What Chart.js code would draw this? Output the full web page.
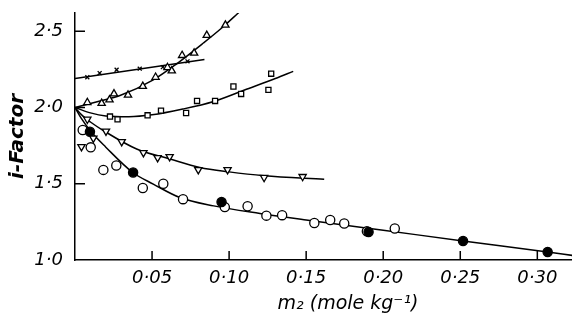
<!DOCTYPE html>
<html lang="en">
<head>
<meta charset="UTF-8">
<title>i-Factor against m2</title>
<script src="https://cdn.jsdelivr.net/npm/chart.js@4.4.0/dist/chart.umd.min.js"></script>
<style>
  body { margin: 0; background: #fff; }
</style>
</head>
<body>
<canvas id="chart" width="572" height="322"></canvas>
<script>
// axis ticks
const xTicks = [0.05, 0.10, 0.15, 0.20, 0.25, 0.30];
const yTicks = [1.0, 1.5, 2.0, 2.5];
const xTitle = 'm\u2082 (mole kg\u207B\u00B9)';
const yTitle = 'i-Factor';

// crosses
const crossM = [0.008, 0.016, 0.027, 0.042, 0.057, 0.073];
const crossI = [2.199, 2.226, 2.248, 2.255, 2.265, 2.303];
const crossLineM = [0, 0.084];
const crossLineI = [2.19, 2.315];

// upward triangles
const triUpM = [0.008, 0.0173, 0.0224, 0.0253, 0.0344, 0.044, 0.0523, 0.060, 0.0628, 0.0695, 0.0773, 0.0855, 0.0976];
const triUpI = [2.033, 2.028, 2.051, 2.090, 2.082, 2.139, 2.199, 2.263, 2.241, 2.342, 2.357, 2.474, 2.541];
const triUpCurveM = [0, 0.015, 0.0292, 0.0508, 0.066, 0.0833, 0.095, 0.107];
const triUpCurveI = [2.0, 2.04, 2.079, 2.182, 2.287, 2.423, 2.52, 2.63];

// squares
const squareM = [0.0227, 0.0276, 0.0471, 0.0558, 0.0721, 0.0792, 0.0909, 0.1028, 0.1078, 0.1273, 0.1255];
const squareI = [1.941, 1.922, 1.949, 1.980, 1.964, 2.043, 2.043, 2.138, 2.089, 2.222, 2.116];
const squareCurveM = [0, 0.01, 0.02, 0.035, 0.05, 0.07, 0.09, 0.11, 0.13, 0.1416];
const squareCurveI = [2.0, 1.965, 1.945, 1.94, 1.952, 1.99, 2.04, 2.115, 2.19, 2.237];

// downward triangles
const triDownM = [0.008, 0.0042, 0.0119, 0.0201, 0.0303, 0.0444, 0.0536, 0.0614, 0.080, 0.099, 0.1227, 0.1477];
const triDownI = [1.923, 1.743, 1.799, 1.845, 1.776, 1.704, 1.671, 1.678, 1.592, 1.592, 1.541, 1.547];
const triDownCurveM = [0, 0.005, 0.01, 0.0184, 0.04, 0.0617, 0.081, 0.10, 0.1227, 0.1617];
const triDownCurveI = [2.0, 1.945, 1.905, 1.849, 1.728, 1.662, 1.607, 1.578, 1.553, 1.530];

// open and filled circles
const openCircleM = [0.005, 0.0102, 0.0184, 0.0268, 0.044, 0.0573, 0.0701, 0.0972, 0.112, 0.1242, 0.1344, 0.1553, 0.1656, 0.1747, 0.1894, 0.2075];
const openCircleI = [1.853, 1.739, 1.591, 1.620, 1.472, 1.500, 1.399, 1.347, 1.353, 1.291, 1.294, 1.243, 1.262, 1.239, 1.188, 1.207];
const filledCircleM = [0.0097, 0.0377, 0.0951, 0.1905, 0.2518, 0.3067];
const filledCircleI = [1.841, 1.574, 1.380, 1.184, 1.125, 1.053];
const circleCurveM = [0, 0.004, 0.0102, 0.02, 0.0375, 0.0508, 0.068, 0.09, 0.12, 0.15, 0.2, 0.2518, 0.3067, 0.3227];
const circleCurveI = [2.0, 1.93, 1.844, 1.74, 1.574, 1.498, 1.41, 1.355, 1.305, 1.262, 1.195, 1.125, 1.053, 1.03];

function pts(ms, is) {
  return ms.map((m, k) => ({ x: m, y: is[k] }));
}

function marks(ms, is, style, radius, fill, rotation) {
  return {
    data: pts(ms, is),
    showLine: false,
    pointStyle: style,
    pointRadius: radius,
    pointRotation: rotation || 0,
    pointBorderColor: '#000',
    pointBackgroundColor: fill,
    pointBorderWidth: 1.3
  };
}

function curve(ms, is) {
  return {
    data: pts(ms, is),
    showLine: true,
    borderColor: '#000',
    borderWidth: 1.5,
    pointRadius: 0,
    cubicInterpolationMode: 'monotone'
  };
}

// tick marks point into the plot, and the x title sits right of centre
const inwardTicks = {
  id: 'inwardTicks',
  afterDraw(chart) {
    const { ctx, chartArea, scales: { x, y } } = chart;
    ctx.save();
    ctx.strokeStyle = '#000';
    ctx.lineWidth = 1.5;
    ctx.beginPath();
    xTicks.forEach(v => {
      const px = x.getPixelForValue(v);
      ctx.moveTo(px, chartArea.bottom);
      ctx.lineTo(px, chartArea.bottom - 9);
    });
    yTicks.slice(1).forEach(v => {
      const py = y.getPixelForValue(v);
      ctx.moveTo(chartArea.left, py);
      ctx.lineTo(chartArea.left + 10, py);
    });
    ctx.stroke();
    ctx.fillStyle = '#000';
    ctx.font = 'italic 19px "DejaVu Sans"';
    ctx.textAlign = 'center';
    ctx.textBaseline = 'middle';
    ctx.fillText(xTitle, chartArea.left + 273, 304);
    ctx.restore();
  }
};

const tickFont = { family: 'DejaVu Sans', size: 18, style: 'italic' };

new Chart(document.getElementById('chart'), {
  type: 'scatter',
  data: {
    datasets: [
      marks(crossM, crossI, 'crossRot', 2.8, '#fff'),
      marks(triUpM, triUpI, 'triangle', 4.2, '#fff'),
      marks(squareM, squareI, 'rect', 3.6, '#fff'),
      marks(triDownM, triDownI, 'triangle', 4.2, '#fff', 180),
      marks(filledCircleM, filledCircleI, 'circle', 4.6, '#000'),
      marks(openCircleM, openCircleI, 'circle', 4.6, '#fff'),
      curve(crossLineM, crossLineI),
      curve(triUpCurveM, triUpCurveI),
      curve(squareCurveM, squareCurveI),
      curve(triDownCurveM, triDownCurveI),
      curve(circleCurveM, circleCurveI)
    ]
  },
  options: {
    responsive: false,
    animation: false,
    layout: { autoPadding: false, padding: { top: 13, left: 0, right: 0, bottom: 0 } },
    plugins: { legend: { display: false }, tooltip: { enabled: false } },
    scales: {
      x: {
        type: 'linear',
        min: 0,
        max: 0.3225,
        afterBuildTicks: s => { s.ticks = xTicks.map(v => ({ value: v })); },
        afterFit: s => { s.height = 62; s.paddingLeft = 0; s.paddingRight = 0; },
        grid: { display: false, drawTicks: false },
        border: { display: true, color: '#000', width: 1.5 },
        ticks: {
          color: '#000',
          font: tickFont,
          padding: 8,
          maxRotation: 0,
          autoSkip: false,
          callback: v => v.toFixed(2).replace('.', '\u00B7')
        }
      },
      y: {
        type: 'linear',
        min: 1.0,
        max: 2.62,
        afterBuildTicks: s => { s.ticks = yTicks.map(v => ({ value: v })); },
        afterFit: s => { s.width = 75; s.paddingTop = 0; s.paddingBottom = 0; },
        grid: { display: false, drawTicks: false },
        border: { display: true, color: '#000', width: 1.5 },
        title: {
          display: true,
          text: yTitle,
          color: '#000',
          font: { family: 'DejaVu Sans', size: 20, style: 'italic', weight: 'bold' },
          padding: { top: 6, bottom: 0 }
        },
        ticks: {
          color: '#000',
          font: tickFont,
          padding: 12,
          callback: v => v.toFixed(1).replace('.', '\u00B7')
        }
      }
    }
  },
  plugins: [inwardTicks]
});
</script>
</body>
</html>
